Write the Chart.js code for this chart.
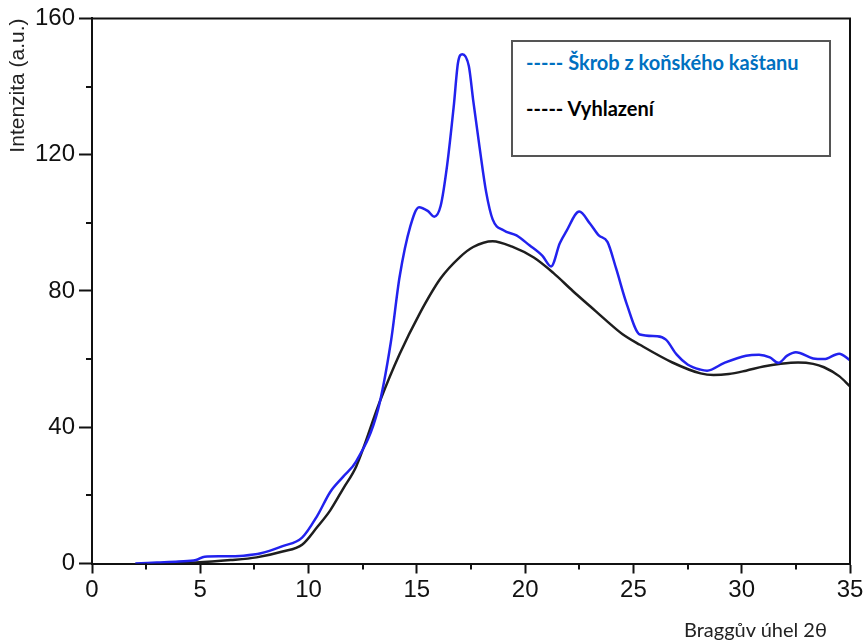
<!DOCTYPE html>
<html lang="cs">
<head>
<meta charset="utf-8">
<title>Intenzita</title>
<script src="https://cdn.jsdelivr.net/npm/chart.js@4.4.1/dist/chart.umd.min.js"></script>
<style>
  html, body { margin: 0; padding: 0; background: #fff; }
  #obal { position: relative; width: 867px; height: 642px; }
  #legenda {
    position: absolute; left: 511px; top: 40px; width: 320px; height: 117px;
    box-sizing: border-box; border: 2px solid #555; background: #fff;
    font-family: Lato, "Noto Sans", sans-serif; font-weight: bold; font-size: 20px;
  }
  #legenda div { position: absolute; left: 13px; white-space: nowrap; line-height: 24px; }
  #leg-skrob { top: 8px; color: #0070c0; }
  #leg-vyhl { top: 54px; color: #000; }
  #osa-x {
    position: absolute; left: 684px; top: 617px; white-space: nowrap; line-height: 24px;
    font-family: Lato, "Noto Sans", sans-serif; font-size: 20px; color: #222;
  }
</style>
</head>
<body>
<div id="obal">
  <canvas id="difraktogram" width="867" height="642"></canvas>
  <div id="legenda">
    <div id="leg-skrob">----- Škrob z koňského kaštanu</div>
    <div id="leg-vyhl">----- Vyhlazení</div>
  </div>
  <div id="osa-x">Braggův úhel 2θ</div>
</div>
<script>
// naměřený difraktogram (2θ, intenzita)
const skrobUhel = [2.0, 3.0, 4.0, 4.8, 5.2, 6.0, 7.0, 7.8, 8.8, 9.7, 10.4, 11.0, 11.6, 12.2,
  13.2, 13.8, 14.2, 14.7, 15.1, 15.5, 15.8, 16.1, 16.4, 16.7, 16.9, 17.1, 17.4, 17.6, 17.9,
  18.2, 18.5, 19.0, 19.6, 20.2, 20.8, 21.2, 21.6, 21.9, 22.5, 23.0, 23.4, 23.8, 24.2, 24.7,
  25.3, 26.1, 26.5, 27.0, 27.5, 28.1, 28.4, 29.2, 30.2, 30.8, 31.3, 31.7, 32.1, 32.5, 33.3,
  33.8, 34.5, 35.0];
const skrobIntenzita = [0, 0.3, 0.6, 1.0, 2.0, 2.1, 2.3, 3.0, 5.1, 7.6, 14.0, 21.0, 25.5, 30.0,
  45.0, 65.0, 84.0, 99.0, 104.6, 103.5, 101.8, 105.0, 117.0, 134.0, 147.0, 149.5, 146.0, 136.0, 122.0,
  109.0, 101.0, 97.8, 96.3, 93.4, 90.3, 87.2, 94.0, 97.5, 103.3, 99.7, 96.3, 94.4, 86.6, 76.0,
  67.2, 66.7, 65.7, 61.3, 58.4, 56.9, 56.6, 58.9, 61.0, 61.3, 60.5, 58.9, 61.0, 62.0, 60.2,
  60.0, 61.6, 59.7];

// vyhlazená křivka
const vyhlUhel = [2.5, 4.8, 6.4, 7.6, 8.8, 9.7, 10.4, 11.0, 11.6, 12.2, 13.3, 14.2, 15.1, 16.1,
  17.0, 17.6, 18.5, 19.4, 20.4, 21.3, 22.2, 23.0, 23.8, 24.5, 25.3, 26.8, 28.1, 28.7, 29.4,
  30.2, 31.0, 31.8, 32.6, 33.3, 33.8, 34.5, 35.0];
const vyhlIntenzita = [0, 0.3, 1.0, 1.8, 3.5, 5.5, 10.7, 15.6, 22.0, 28.5, 47.7, 61.4, 73.0, 83.7,
  90.0, 92.9, 94.6, 93.0, 89.8, 85.3, 80.0, 75.5, 71.0, 67.3, 64.2, 59.0, 55.8, 55.3, 55.6,
  56.6, 57.8, 58.6, 59.0, 58.6, 57.6, 55.0, 52.0];

// vedlejší rysky na osách
const malaRyskaX = [2.5, 7.5, 12.5, 17.5, 22.5, 27.5, 32.5];
const malaRyskaY = [20, 60, 100, 140];

const pismoOs = { family: '"Liberation Sans Narrow", "Liberation Sans", Arial, sans-serif', size: 24 };
const barvaOs = '#111';

const body = (xs, ys) => xs.map((x, i) => ({ x: x, y: ys[i] }));

// krátké rysky a rámeček grafu nahoře a vpravo
const ramecek = {
  id: 'ramecek',
  afterDraw(chart) {
    const { ctx, chartArea, scales } = chart;
    ctx.save();
    ctx.strokeStyle = barvaOs;
    ctx.lineWidth = 2;
    ctx.beginPath();
    malaRyskaX.forEach(v => {
      const px = Math.round(scales.x.getPixelForValue(v));
      ctx.moveTo(px, chartArea.bottom);
      ctx.lineTo(px, chartArea.bottom + 6);
    });
    malaRyskaY.forEach(v => {
      const py = Math.round(scales.y.getPixelForValue(v));
      ctx.moveTo(chartArea.left, py);
      ctx.lineTo(chartArea.left - 6, py);
    });
    ctx.moveTo(chartArea.left, chartArea.top);
    ctx.lineTo(chartArea.right, chartArea.top);
    ctx.lineTo(chartArea.right, chartArea.bottom);
    ctx.stroke();
    ctx.restore();
  }
};

new Chart(document.getElementById('difraktogram'), {
  type: 'line',
  data: {
    datasets: [{
      label: 'Škrob z koňského kaštanu',
      data: body(skrobUhel, skrobIntenzita),
      borderColor: '#2222ee',
      borderWidth: 2.5,
      pointRadius: 0,
      cubicInterpolationMode: 'monotone'
    }, {
      label: 'Vyhlazení',
      data: body(vyhlUhel, vyhlIntenzita),
      borderColor: '#1e1e1e',
      borderWidth: 2.5,
      pointRadius: 0,
      cubicInterpolationMode: 'monotone'
    }]
  },
  options: {
    responsive: false,
    animation: false,
    layout: { padding: { left: 0, right: 17, top: 15, bottom: 0 } },
    plugins: { legend: { display: false }, tooltip: { enabled: false } },
    scales: {
      x: {
        type: 'linear', min: 0, max: 35,
        afterFit: s => { s.height = 78.5; },
        ticks: { stepSize: 5, font: pismoOs, color: barvaOs, padding: 2, maxRotation: 0 },
        grid: { drawOnChartArea: false, tickLength: 10, tickWidth: 2, tickColor: barvaOs },
        border: { color: barvaOs, width: 2 }
      },
      y: {
        min: 0, max: 160,
        afterFit: s => { s.width = 92; },
        ticks: { stepSize: 40, font: pismoOs, color: barvaOs, padding: 4 },
        grid: { drawOnChartArea: false, tickLength: 13, tickWidth: 2, tickColor: barvaOs },
        border: { color: barvaOs, width: 2 },
        title: {
          display: true, text: 'Intenzita (a.u.)', align: 'end',
          font: { family: '"Liberation Sans", Arial, sans-serif', size: 21 },
          color: '#222', padding: { top: 6, bottom: 0 }
        }
      }
    }
  },
  plugins: [ramecek]
});
</script>
</body>
</html>
